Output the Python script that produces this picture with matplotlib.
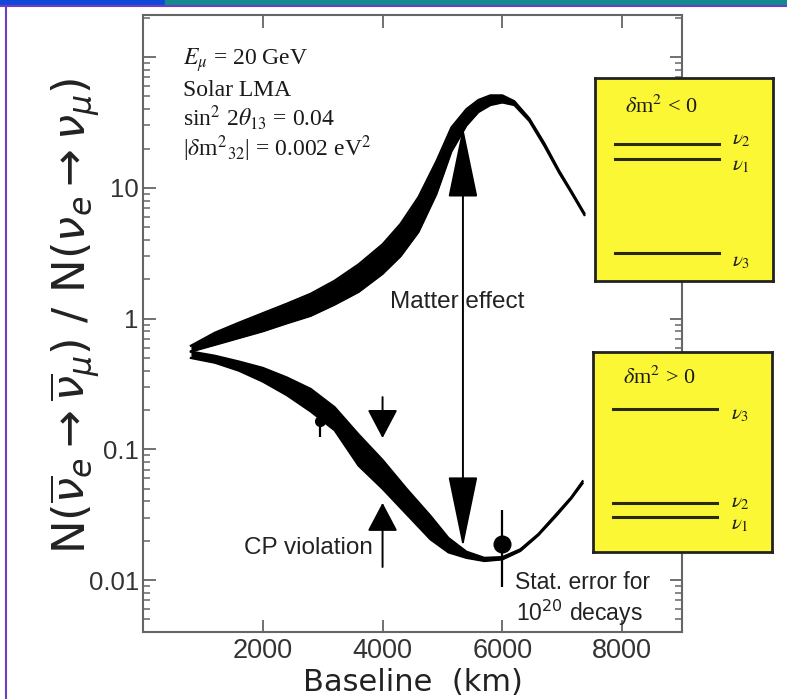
import matplotlib
matplotlib.use('Agg')
import matplotlib.pyplot as plt
from matplotlib.patches import FancyArrowPatch, Rectangle, ArrowStyle
from matplotlib.lines import Line2D
from matplotlib.ticker import LogLocator, NullFormatter, FixedLocator, FixedFormatter

plt.rcParams['font.family'] = ['Liberation Sans', 'DejaVu Sans']

# ---------------- data ----------------
upper_km = [800, 1200, 1600, 2000, 2400, 2800, 3200, 3600, 4000, 4300, 4600, 4900, 5150,
            5400, 5600, 5800, 6000, 6200, 6450, 6700, 6950, 7150, 7370]
upper_hi = [0.62, 0.78, 0.93, 1.1, 1.3, 1.55, 1.95, 2.6, 3.7, 5.3, 8.5, 16, 29,
            40, 47, 51, 51, 46, 34, 22, 13.5, 9.5, 6.4]
upper_lo = [0.56, 0.63, 0.71, 0.80, 0.92, 1.05, 1.28, 1.6, 2.2, 3.0, 4.6, 9, 19,
            30, 38, 43, 45, 43, 32.5, 21, 13, 9.2, 6.2]

lower_km = [800, 1200, 1600, 2000, 2400, 2800, 3200, 3600, 4000, 4400, 4800, 5100, 5400,
            5700, 6000, 6300, 6600, 6900, 7150, 7340]
lower_hi = [0.56, 0.52, 0.47, 0.42, 0.355, 0.29, 0.21, 0.13, 0.083, 0.05, 0.031, 0.021, 0.0165,
            0.0148, 0.0150, 0.0172, 0.0225, 0.032, 0.043, 0.057]
lower_lo = [0.50, 0.46, 0.40, 0.33, 0.26, 0.195, 0.14, 0.075, 0.05, 0.032, 0.0205, 0.0163, 0.0148,
            0.0140, 0.0144, 0.0167, 0.022, 0.031, 0.042, 0.055]

# statistical error points (x, y, lower end, upper end)
err_km = [6000, 2950]
err_y = [0.019, 0.165]
err_lo = [0.0089, 0.124]
err_hi = [0.0343, 0.20]
err_ms = [12, 7]

# annotation arrows (x, y_from, y_to)
matter_arrow = (5342, 0.0179, 29.3)
cp_down_arrow = (4000, 0.251, 0.122)
cp_up_arrow = (4000, 0.0126, 0.039)

x_ticks = [2000, 4000, 6000, 8000]
x_ticklabels = ['2000', '4000', '6000', '8000']
y_ticks = [0.01, 0.1, 1, 10, 100]
y_ticklabels = ['0.01', '0.1', '1', '10', '']

params_text = [r'$E_{\mu}$ = 20 GeV', 'Solar LMA', r'sin$^{2}$ 2$\theta_{13}$ = 0.04',
               r'|$\delta$m$^{2}$$_{32}$| = 0.002 eV$^{2}$']

# level schemes (positions inside the box, 0 = bottom, 1 = top)
box1_title = r'$\delta$m$^2$ < 0'
box1_levels = [0.675, 0.60, 0.138]
box1_labels = [r'$\nu_2$', r'$\nu_1$', r'$\nu_3$']
box2_title = r'$\delta$m$^2$ > 0'
box2_levels = [0.715, 0.245, 0.175]
box2_labels = [r'$\nu_3$', r'$\nu_2$', r'$\nu_1$']

# ---------------- figure ----------------
W, H = 787, 699
fig = plt.figure(figsize=(W / 100, H / 100), dpi=100)
fig.patch.set_facecolor('white')

def fx(px):
    return px / W

def fy(py):
    return 1 - py / H

# slide frame decorations
fig.patches.append(Rectangle((0, fy(5)), fx(165), fy(0) - fy(5), transform=fig.transFigure,
                             color='#1147d8', zorder=0))
fig.patches.append(Rectangle((fx(165), fy(5)), 1 - fx(165), fy(0) - fy(5), transform=fig.transFigure,
                             color='#138a8e', zorder=0))
fig.lines.append(Line2D([0, 1], [fy(6), fy(6)], transform=fig.transFigure, color='#6a3fc8', lw=1.5))
fig.lines.append(Line2D([fx(6), fx(6)], [fy(6), 0], transform=fig.transFigure, color='#6a3fc8', lw=1.5))

ax = fig.add_axes([fx(143), fy(632), fx(682) - fx(143), fy(15) - fy(632)])
ax.set_xlim(0, 9000)
ax.set_yscale('log')
ax.set_ylim(0.00401, 210)

# bands
ax.fill_between(upper_km, upper_lo, upper_hi, color='black', lw=0)
ax.plot(upper_km, upper_hi, color='black', lw=1.6, solid_joinstyle='round')
ax.plot(upper_km, upper_lo, color='black', lw=1.6, solid_joinstyle='round')
ax.fill_between(lower_km, lower_lo, lower_hi, color='black', lw=0)
ax.plot(lower_km, lower_hi, color='black', lw=1.6, solid_joinstyle='round')
ax.plot(lower_km, lower_lo, color='black', lw=1.6, solid_joinstyle='round')

# error points
for k in range(len(err_km)):
    ax.errorbar([err_km[k]], [err_y[k]],
                yerr=[[err_y[k] - err_lo[k]], [err_hi[k] - err_y[k]]],
                fmt='o', color='black', ms=err_ms[k], elinewidth=1.6, capsize=0)

# arrows
def arrow(spec, style, hl, hw):
    x, y0, y1 = spec
    a = FancyArrowPatch((x, y0), (x, y1), transform=ax.transData,
                        arrowstyle=ArrowStyle(style, head_length=hl, head_width=hw),
                        mutation_scale=1, shrinkA=0, shrinkB=0, lw=1.4, color='black')
    ax.add_patch(a)

arrow(matter_arrow, '<|-|>', 46, 9.5)
arrow(cp_down_arrow, '-|>', 18, 9.5)
arrow(cp_up_arrow, '-|>', 18, 9.5)

ax.text(5242, 1.34, 'Matter effect', fontsize=17.5, ha='center', va='center', color='#222222')
ax.text(3845, 0.0176, 'CP violation', fontsize=17.5, ha='right', va='center', color='#222222')
ax.text(6207, 0.00966, 'Stat. error for', fontsize=16.5, ha='left', va='center', color='#222222')
ax.text(6230, 0.0056, r'10$^{20}$ decays', fontsize=16.5, ha='left', va='center', color='#222222')

# axes styling
for s in ax.spines.values():
    s.set_color('#666666')
    s.set_linewidth(1.5)
ax.xaxis.set_major_locator(FixedLocator(x_ticks))
ax.xaxis.set_major_formatter(FixedFormatter(x_ticklabels))
ax.yaxis.set_major_locator(FixedLocator(y_ticks))
ax.yaxis.set_major_formatter(FixedFormatter(y_ticklabels))
ax.yaxis.set_minor_locator(LogLocator(base=10, subs=range(2, 10), numticks=20))
ax.yaxis.set_minor_formatter(NullFormatter())
ax.tick_params(which='major', direction='in', length=9, width=1.3, color='#666666',
               top=True, right=True, labelcolor='#333333', pad=4)
ax.tick_params(which='minor', direction='in', length=5, width=1.1, color='#666666',
               top=False, right=True)
ax.tick_params(axis='x', which='major', labelsize=19.5, pad=4)
ax.tick_params(axis='y', which='major', labelsize=18.5, pad=3)

ax.set_xlabel('Baseline  (km)', fontsize=22, family='DejaVu Sans', color='#222222', labelpad=3)

fig.text(fx(76), fy(316),
         r'N($\overline{\nu}_{e}\rightarrow\overline{\nu}_{\mu}$) / N($\nu_{e}\rightarrow\nu_{\mu}$)',
         rotation=90, ha='center', va='center', fontsize=32.5, family='DejaVu Sans', color='#222222')

# parameter block
for i, t in enumerate(params_text):
    fig.text(fx(183), fy(65 + 30.5 * i), t, fontsize=17, family='Liberation Serif',
             math_fontfamily='stix', ha='left', va='baseline', color='#1a1a1a')

# level-scheme boxes
def level_box(rect_px, title, title_y, levels, labels, label_dy):
    x0, y0, x1, y1 = rect_px
    bx = fig.add_axes([fx(x0), fy(y1), fx(x1) - fx(x0), fy(y0) - fy(y1)])
    bx.set_facecolor('#fbf735')
    bx.set_xlim(0, 1)
    bx.set_ylim(0, 1)
    bx.set_xticks([])
    bx.set_yticks([])
    for s in bx.spines.values():
        s.set_color('#222222')
        s.set_linewidth(2)
    bx.text(0.37, title_y, title, fontsize=16, family='Liberation Serif',
            math_fontfamily='stix', ha='center', va='center', color='#1a1a1a')
    for lv, lb, dy in zip(levels, labels, label_dy):
        bx.plot([0.11, 0.695], [lv, lv], color='#2a2a10', lw=2.2)
        bx.text(0.77, lv + dy, lb, fontsize=15, math_fontfamily='stix', ha='left', va='center',
                color='#1a1a1a')
    return bx

level_box((595, 78, 773, 281), box1_title, 0.86, box1_levels, box1_labels, [0.02, -0.03, -0.04])
level_box((593, 352, 772, 552), box2_title, 0.87, box2_levels, box2_labels, [-0.03, 0.0, -0.04])

fig.savefig('out.png', dpi=100)
